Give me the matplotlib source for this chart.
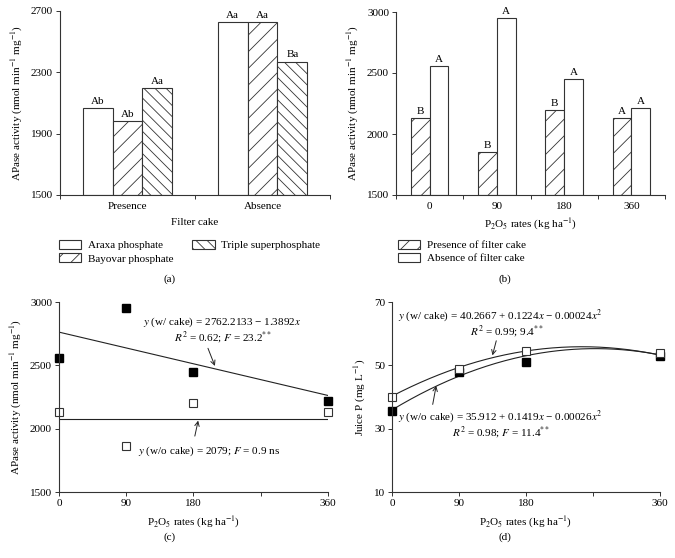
import numpy as np
import matplotlib
matplotlib.use("Agg")
import matplotlib.pyplot as plt

plt.rcParams['font.family'] = ['Liberation Serif', 'DejaVu Serif']
plt.rcParams['mathtext.fontset'] = 'stix'
plt.rcParams['font.size'] = 8
plt.rcParams['hatch.linewidth'] = 0.6
plt.rcParams['axes.linewidth'] = 0.8

# (a) APase by filter cake and phosphate source
groups_a = ['Presence', 'Absence']
araxa = [2065, 2625]
bayovar = [1980, 2625]
triple = [2195, 2370]
letters_a = [['Ab', 'Aa'], ['Ab', 'Aa'], ['Aa', 'Ba']]

# (b) APase by P2O5 rate
rates = [0, 90, 180, 360]
presence_b = [2130, 1855, 2200, 2130]
absence_b = [2560, 2950, 2450, 2215]
letters_pres = ['B', 'B', 'B', 'A']
letters_abs = ['A', 'A', 'A', 'A']

# (c) scatter + fits
c_filled = [2560, 2950, 2450, 2215]
c_open = [2130, 1860, 2200, 2130]
c_fit_with = [2762.2133, -1.3892]
c_fit_without = 2079

# (d) juice P
d_open = [40, 49, 54.5, 54]
d_filled = [35.5, 48, 51, 53]
d_fit_with = [40.2667, 0.1224, -0.00024]
d_fit_without = [35.912, 0.1419, -0.00026]

W, H = 675, 558
fig = plt.figure(figsize=(W / 100, H / 100), dpi=100)


def box(l, t, r, b):
    return [l / W, 1 - b / H, (r - l) / W, (b - t) / H]


def style(ax):
    for s in ['top', 'right']:
        ax.spines[s].set_visible(False)
    for s in ['left', 'bottom']:
        ax.spines[s].set_color('#333333')
    ax.tick_params(direction='out', length=3, width=0.7, color='#333333', labelsize=8, pad=2)


def label_at(x, y, s, **kw):
    fig.text(x / W, 1 - y / H, s, ha='center', va='center', **kw)


ylab = 'APase activity (nmol min$^{-1}$ mg$^{-1}$)'
xlab = 'P$_2$O$_5$ rates (kg ha$^{-1}$)'
arrow = dict(arrowstyle='->', lw=0.7, color='#222222')

# ---- (a)
ax = fig.add_axes(box(60, 11, 330, 195))
style(ax)
bw = 0.222
xa = np.arange(len(groups_a)) + 0.5
series = [(araxa, 'Araxa phosphate', ''), (bayovar, 'Bayovar phosphate', '//'),
          (triple, 'Triple superphosphate', '\\\\\\')]
for i, (vals, name, hatch) in enumerate(series):
    pos = xa + (i - 1) * bw
    ax.bar(pos, np.array(vals) - 1500, bottom=1500, width=bw, color='white',
           edgecolor='#333333', linewidth=0.8, hatch=hatch, label=name)
    for p, v, t in zip(pos, vals, letters_a[i]):
        ax.text(p, v + 15, t, ha='center', va='bottom', fontsize=8)
ax.set_xlim(0, 2)
ax.set_ylim(1500, 2700)
ax.set_yticks([1500, 1900, 2300, 2700])
ax.set_xticks([0, 1, 2])
ax.set_xticklabels([])
ax.set_xticks(xa, minor=True)
ax.set_xticklabels(groups_a, minor=True)
ax.tick_params(axis='x', which='minor', length=0, labelsize=8, pad=5)
ax.set_xlabel('Filter cake', fontsize=8, labelpad=5)
ax.set_ylabel(ylab, fontsize=8, labelpad=4)
ax.legend(loc='upper left', bbox_to_anchor=(-0.02, -0.22), ncol=2, frameon=False,
          fontsize=8, handlelength=2.0, handleheight=0.9, columnspacing=1.7,
          labelspacing=0.25, handletextpad=0.6, borderaxespad=0)
label_at(170, 279, '(a)')

# ---- (b)
ax = fig.add_axes(box(396, 12, 665, 195))
style(ax)
bw = 0.28
xb = np.arange(len(rates)) + 0.5
ax.bar(xb - bw / 2, np.array(presence_b) - 1500, bottom=1500, width=bw, color='white',
       edgecolor='#333333', linewidth=0.8, hatch='//', label='Presence of filter cake')
ax.bar(xb + bw / 2, np.array(absence_b) - 1500, bottom=1500, width=bw, color='white',
       edgecolor='#333333', linewidth=0.8, label='Absence of filter cake')
for p, v, t in zip(xb - bw / 2, presence_b, letters_pres):
    ax.text(p, v + 15, t, ha='center', va='bottom', fontsize=8)
for p, v, t in zip(xb + bw / 2, absence_b, letters_abs):
    ax.text(p, v + 15, t, ha='center', va='bottom', fontsize=8)
ax.set_xlim(0, 4)
ax.set_ylim(1500, 3000)
ax.set_yticks([1500, 2000, 2500, 3000])
ax.set_xticks([0, 1, 2, 3, 4])
ax.set_xticklabels([])
ax.set_xticks(xb, minor=True)
ax.set_xticklabels([str(r) for r in rates], minor=True)
ax.tick_params(axis='x', which='minor', length=0, labelsize=8, pad=5)
ax.set_xlabel(xlab, fontsize=8, labelpad=4)
ax.set_ylabel(ylab, fontsize=8, labelpad=4)
ax.legend(loc='upper left', bbox_to_anchor=(-0.01, -0.22), ncol=1, frameon=False,
          fontsize=8, handlelength=2.0, handleheight=0.9,
          labelspacing=0.25, handletextpad=0.6, borderaxespad=0)
label_at(505, 279, '(b)')

# ---- (c)
ax = fig.add_axes(box(59, 302, 328, 492))
style(ax)
xs = np.array([0, 360])
ax.plot(xs, c_fit_with[0] + c_fit_with[1] * xs, color='#222222', lw=0.8)
ax.plot(xs, [c_fit_without, c_fit_without], color='#222222', lw=0.8)
ax.plot(rates, c_filled, 's', color='black', ms=6, clip_on=False)
ax.plot(rates, c_open, 's', mfc='white', mec='#333333', mew=0.8, ms=6, clip_on=False)
ax.set_xlim(0, 360)
ax.set_ylim(1500, 3000)
ax.set_xticks([0, 90, 180, 270, 360])
ax.set_xticklabels(['0', '90', '180', '', '360'])
ax.set_yticks([1500, 2000, 2500, 3000])
ax.set_xlabel(xlab, fontsize=8, labelpad=5)
ax.set_ylabel(ylab, fontsize=8, labelpad=4)
ax.text(218, 2840, '$y$ (w/ cake) = 2762.2133 − 1.3892$x$', ha='center', va='center', fontsize=8)
ax.text(220, 2715, '$R^2$ = 0.62; $F$ = 23.2$^{**}$', ha='center', va='center', fontsize=8)
ax.annotate('', xy=(210, 2475), xytext=(198, 2655), arrowprops=arrow)
ax.text(201, 1820, '$y$ (w/o cake) = 2079; $F$ = 0.9 ns', ha='center', va='center', fontsize=8)
ax.annotate('', xy=(187, 2085), xytext=(181, 1920), arrowprops=arrow)
label_at(170, 537, '(c)')

# ---- (d)
ax = fig.add_axes(box(392, 302, 660, 492))
style(ax)
xx = np.linspace(0, 360, 200)
ax.plot(xx, d_fit_with[0] + d_fit_with[1] * xx + d_fit_with[2] * xx ** 2, color='#222222', lw=0.8)
ax.plot(xx, d_fit_without[0] + d_fit_without[1] * xx + d_fit_without[2] * xx ** 2, color='#222222', lw=0.8)
ax.plot(rates, d_filled, 's', color='black', ms=6, clip_on=False)
ax.plot(rates, d_open, 's', mfc='white', mec='#333333', mew=0.8, ms=6, clip_on=False)
ax.set_xlim(0, 360)
ax.set_ylim(10, 70)
ax.set_xticks([0, 90, 180, 270, 360])
ax.set_xticklabels(['0', '90', '180', '', '360'])
ax.set_yticks([10, 30, 50, 70])
ax.set_xlabel(xlab, fontsize=8, labelpad=5)
ax.set_ylabel('Juice P (mg L$^{-1}$)', fontsize=8, labelpad=4)
ax.text(146, 65.8, '$y$ (w/ cake) = 40.2667 + 0.1224$x$ − 0.00024$x^2$', ha='center', va='center', fontsize=8)
ax.text(155, 60.4, '$R^2$ = 0.99; 9.4$^{**}$', ha='center', va='center', fontsize=8)
ax.annotate('', xy=(134, 52.3), xytext=(141, 58.6), arrowprops=arrow)
ax.text(146, 33.7, '$y$ (w/o cake) = 35.912 + 0.1419$x$ − 0.00026$x^2$', ha='center', va='center', fontsize=8)
ax.text(146, 28.6, '$R^2$ = 0.98; $F$ = 11.4$^{**}$', ha='center', va='center', fontsize=8)
ax.annotate('', xy=(60, 44.4), xytext=(54, 36.8), arrowprops=arrow)
label_at(505, 537, '(d)')

fig.savefig('out.png', dpi=100, facecolor='white')
